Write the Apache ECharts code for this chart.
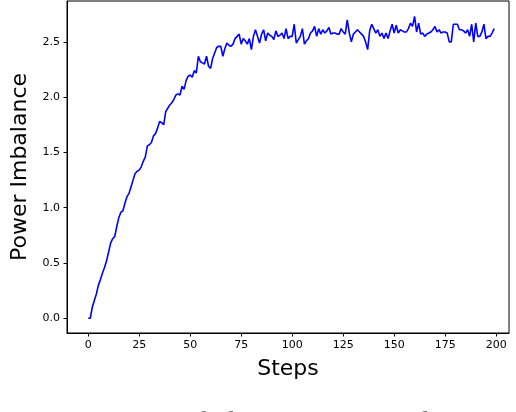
<!DOCTYPE html>
<html>
<head>
<meta charset="utf-8">
<script src="https://cdn.jsdelivr.net/npm/echarts@6/dist/echarts.min.js"></script>
<style>
html,body{margin:0;padding:0;background:#fff;}
#chart{width:516px;height:412px;}
</style>
</head>
<body>
<div id="chart"></div>
<script>
// Power imbalance per step (steps 0..199)
const powerImbalance = [
  0.00,0.00,0.10,0.16,0.22,0.30,0.35,0.41,0.46,0.52,
  0.60,0.68,0.72,0.74,0.83,0.91,0.96,0.97,1.04,1.10,
  1.13,1.19,1.25,1.31,1.33,1.34,1.37,1.42,1.46,1.56,
  1.57,1.59,1.65,1.67,1.72,1.78,1.77,1.75,1.87,1.90,
  1.93,1.95,1.98,2.02,2.03,2.02,2.10,2.07,2.15,2.19,
  2.20,2.18,2.24,2.22,2.37,2.32,2.31,2.30,2.37,2.28,
  2.26,2.35,2.40,2.45,2.46,2.46,2.37,2.44,2.49,2.47,
  2.46,2.48,2.53,2.55,2.57,2.48,2.53,2.51,2.48,2.53,
  2.43,2.55,2.61,2.55,2.49,2.57,2.61,2.51,2.58,2.56,
  2.55,2.52,2.60,2.55,2.56,2.58,2.53,2.62,2.53,2.55,
  2.55,2.66,2.49,2.52,2.55,2.62,2.48,2.51,2.53,2.58,
  2.60,2.64,2.55,2.62,2.57,2.61,2.58,2.60,2.63,2.57,
  2.58,2.58,2.57,2.57,2.62,2.59,2.57,2.70,2.58,2.50,
  2.57,2.59,2.61,2.59,2.57,2.55,2.50,2.43,2.60,2.66,
  2.62,2.58,2.61,2.55,2.58,2.53,2.58,2.53,2.60,2.66,
  2.58,2.65,2.58,2.61,2.60,2.59,2.59,2.62,2.67,2.64,
  2.73,2.59,2.67,2.57,2.58,2.55,2.57,2.58,2.59,2.61,
  2.64,2.59,2.61,2.58,2.59,2.59,2.58,2.50,2.50,2.66,
  2.66,2.66,2.61,2.61,2.60,2.58,2.61,2.55,2.66,2.50,
  2.67,2.55,2.55,2.59,2.66,2.53,2.55,2.55,2.58,2.62
];
const steps = powerImbalance.map((_, i) => i);
const xTicks = [0, 25, 50, 75, 100, 125, 150, 175, 200];
const yTicks = [0, 0.5, 1.0, 1.5, 2.0, 2.5];
const xName = 'Steps';
const yName = 'Power Imbalance';
const caption = 'Figure 3: Power Imbalance in Temporal Dynamics';

const seriesData = steps.map((s, i) => [s, powerImbalance[i]]);

const chart = echarts.init(document.getElementById('chart'), null, {renderer: 'canvas'});
const tickFont = {fontFamily: 'DejaVu Sans', fontSize: 11, color: '#000'};
chart.setOption({
  animation: false,
  backgroundColor: '#fff',
  grid: {left: 67, right: 7, top: 1, bottom: 79, show: true, borderColor: '#000', borderWidth: 1, backgroundColor: 'transparent'},
  xAxis: {
    type: 'value', min: -10.4, max: 206.3,
    name: xName, nameLocation: 'middle', nameGap: 25,
    nameTextStyle: {fontFamily: 'DejaVu Sans', fontSize: 22, color: '#000'},
    axisLine: {show: true, onZero: false, lineStyle: {color: '#000', width: 1}},
    axisTick: {show: true, length: 3.5, inside: false, customValues: xTicks, lineStyle: {color: '#000', width: 1}},
    axisLabel: Object.assign({margin: 7, customValues: xTicks, formatter: v => String(v)}, tickFont),
    splitLine: {show: false}
  },
  yAxis: {
    type: 'value', min: -0.133, max: 2.87,
    name: yName, nameLocation: 'middle', nameGap: 34,
    nameTextStyle: {fontFamily: 'DejaVu Sans', fontSize: 22, color: '#000'},
    axisLine: {show: true, onZero: false, lineStyle: {color: '#000', width: 1}},
    axisTick: {show: true, length: 3.5, inside: false, customValues: yTicks, lineStyle: {color: '#000', width: 1}},
    axisLabel: Object.assign({margin: 7, customValues: yTicks, formatter: v => v.toFixed(1)}, tickFont),
    splitLine: {show: false}
  },
  graphic: [{
    type: 'text', x: -17, y: 409, silent: true,
    style: {text: caption, fontFamily: 'Liberation Serif', fontSize: 28, fill: '#777', verticalAlign: 'top', align: 'left'}
  }],
  series: [{
    type: 'line', data: seriesData, showSymbol: false, symbol: 'none',
    lineStyle: {color: '#0000ff', width: 1.6}, smooth: false
  }]
});
</script>
</body>
</html>
